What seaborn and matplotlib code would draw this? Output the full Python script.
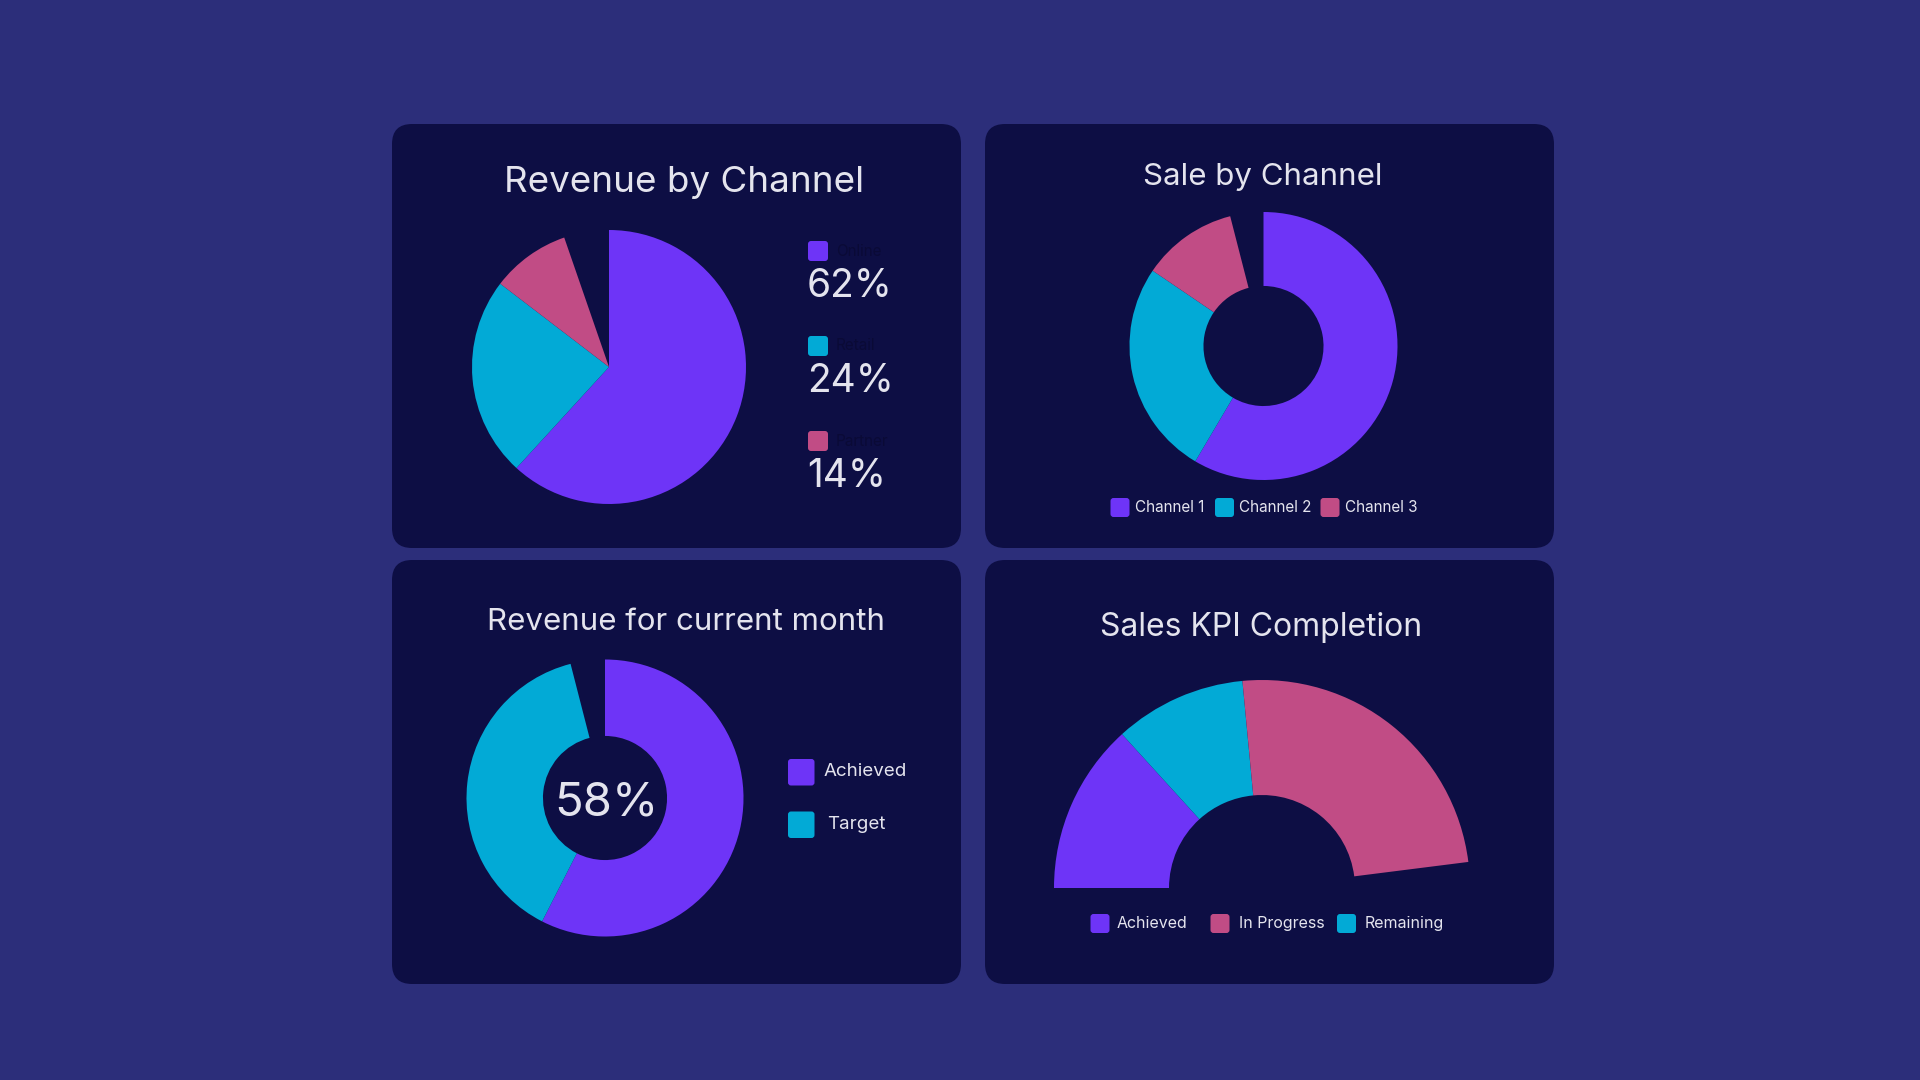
import numpy as np
import seaborn as sns
import matplotlib.pyplot as plt
from matplotlib.patches import FancyBboxPatch

# Colours
BG = "#2c2e7a"
CARD = "#0d0e44"
TXT = "#e4e4ee"
HIDDEN = "#0a0a36"
PURPLE = "#6e34f7"
CYAN = "#02aad6"
PINK = "#c14c85"

sns.set_theme(style="white")
plt.rcParams["font.family"] = ["Inter", "DejaVu Sans"]

# Data
rev_channels = ["Online", "Retail", "Partner"]
rev_values = [61.8, 23.6, 9.3]          # drawn share of the full circle (%)
rev_labels = ["62%", "24%", "14%"]

sale_channels = ["Channel 1", "Channel 2", "Channel 3"]
sale_values = [58.5, 26, 11.5]

month_labels = ["Achieved", "Target"]
month_values = [57.5, 38.5]
month_center = "58%"

kpi_labels = ["Achieved", "Remaining", "In Progress"]
kpi_values = [26.5, 20.5, 49]       # % of the half ring
kpi_legend = ["Achieved", "In Progress", "Remaining"]

palette3 = sns.color_palette([PURPLE, CYAN, PINK])
kpi_colors = {"Achieved": PURPLE, "Remaining": CYAN, "In Progress": PINK}

W, H = 1920, 1080
fig = plt.figure(figsize=(19.2, 10.8), dpi=100, facecolor=BG)
bg = fig.add_axes([0, 0, 1, 1])
bg.set_xlim(0, W)
bg.set_ylim(H, 0)
bg.axis("off")

# Cards
for x0, y0 in [(392, 124), (985, 124), (392, 560), (985, 560)]:
    bg.add_patch(FancyBboxPatch((x0, y0), 569, 424,
                                boxstyle="round,pad=0,rounding_size=20",
                                fc=CARD, ec="none"))


def square(x, y, s, c):
    bg.add_patch(FancyBboxPatch((x, y), s, s,
                                boxstyle="round,pad=0,rounding_size=3",
                                fc=c, ec="none"))


def pie_axes(cx, cy, r):
    ax = fig.add_axes([(cx - r) / W, 1 - (cy + r) / H, 2 * r / W, 2 * r / H])
    return ax


def finish(ax):
    ax.set_xlim(-1, 1)
    ax.set_ylim(-1, 1)
    ax.set_aspect("equal")
    ax.axis("off")


# 1. Revenue by Channel
bg.text(684, 192, "Revenue by Channel", color=TXT, fontsize=26.5,
        ha="center", va="baseline")
ax1 = pie_axes(609, 367, 137)
ax1.pie(np.array(rev_values) / 100, normalize=False, colors=palette3,
        startangle=90, counterclock=False, radius=1,
        wedgeprops=dict(linewidth=0))
finish(ax1)
for i, (name, lab) in enumerate(zip(rev_channels, rev_labels)):
    y = 241 + i * 95
    square(808, y, 20, palette3[i])
    bg.text(836, y + 10, name, color=HIDDEN, fontsize=11, va="center")
    bg.text(807, y + 56, lab, color=TXT, fontsize=28, va="baseline")

# 2. Sale by Channel
bg.text(1263, 185, "Sale by Channel", color=TXT, fontsize=22.5,
        ha="center", va="baseline")
ax2 = pie_axes(1263.5, 346, 134)
ax2.pie(np.array(sale_values) / 100, normalize=False, colors=palette3,
        startangle=90, counterclock=False, radius=1,
        wedgeprops=dict(width=0.552, linewidth=0))
finish(ax2)
for i, (name, sx, tx) in enumerate(zip(sale_channels, [1110.5, 1215, 1320.5],
                                       [1135, 1239, 1345])):
    square(sx, 498, 19, palette3[i])
    bg.text(tx, 507.5, name, color=TXT, fontsize=11, va="center")

# 3. Revenue for current month
bg.text(686, 630, "Revenue for current month", color=TXT, fontsize=22.5,
        ha="center", va="baseline")
ax3 = pie_axes(605, 798, 138.5)
ax3.pie(np.array(month_values) / 100, normalize=False, colors=[PURPLE, CYAN],
        startangle=90, counterclock=False, radius=1,
        wedgeprops=dict(width=0.552, linewidth=0))
finish(ax3)
bg.text(606, 816, month_center, color=TXT, fontsize=34,
        ha="center", va="baseline")
for i, (name, c, tx) in enumerate(zip(month_labels, [PURPLE, CYAN], [824, 827])):
    y = 759 + i * 52.5
    square(788, y, 26.5, c)
    bg.text(tx, y + 13, name, color=TXT, fontsize=13.5, va="center")

# 4. Sales KPI Completion (half ring)
bg.text(1261, 636, "Sales KPI Completion", color=TXT, fontsize=23,
        ha="center", va="baseline")
ax4 = pie_axes(1262, 888, 208)
ax4.pie(np.array(kpi_values) / 200, normalize=False,
        colors=[kpi_colors[k] for k in kpi_labels],
        startangle=180, counterclock=False, radius=1,
        wedgeprops=dict(width=0.553, linewidth=0))
finish(ax4)
for name, sx, tx in zip(kpi_legend, [1090.5, 1210.5, 1337], [1117, 1239, 1365]):
    square(sx, 914, 19, kpi_colors[name])
    bg.text(tx, 923.5, name, color=TXT, fontsize=11.5, va="center")

fig.savefig("out.png", dpi=100, facecolor=BG)
